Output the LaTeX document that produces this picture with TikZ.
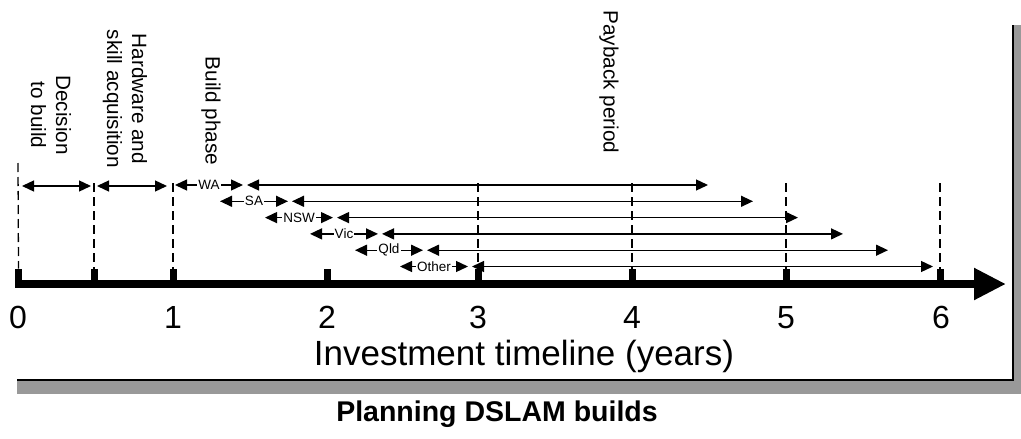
\documentclass[tikz,border=0pt]{standalone}
\usepackage{fontspec}
\setmainfont{Liberation Sans}
\usetikzlibrary{arrows.meta}
\begin{document}
\begin{tikzpicture}[x=1pt,y=-1pt,
  dbl/.style={{Triangle[length=12pt,width=11pt]}-{Triangle[length=12pt,width=11pt]}, line width=1.3pt},
  vdash/.style={line width=1.3pt, dash pattern=on 9pt off 5pt},
  tickmark/.style={fill=black, minimum width=7pt, minimum height=15pt, inner sep=0pt, anchor=south},
  num/.style={font=\fontsize{32}{36}\selectfont, inner sep=0pt, anchor=base},
  vlabel/.style={rotate=-90, align=center, font=\fontsize{20.7}{25}\selectfont, inner sep=0pt},
  slabel/.style={font=\fontsize{13.5}{14}\selectfont, fill=white, inner sep=1pt},
  shadowbar/.style={fill=black!40, draw=none}]
\useasboundingbox (0,0) rectangle (1021,439);
% shadow frame
\path[shadowbar] (1013,25) rectangle (1021,394);
\path[shadowbar] (17,380) rectangle (1021,394);
\coordinate (sh-a) at (17,380);
\coordinate (sh-b) at (1013,380);
\coordinate (sh-c) at (1013,25);
\draw[line width=1.2pt] (sh-a) -- (sh-b) -- (sh-c);
% ticks
\foreach \n/\x in {0/18.5,h/94,1/173,2/327,3/478,4/632,5/786,6/940}
  \node[tickmark] (t\n) at (\x,284) {};
% axis
\coordinate (ax0) at (15,284);
\coordinate (ax1) at (1006,284);
\draw[line width=8pt, -{Triangle[length=32pt,width=30pt]}] (ax0) -- (ax1);
% dashed verticals
\coordinate (d0) at (18,163);
\draw[vdash] (d0) -- (t0.north);
\foreach \n/\x in {h/94,1/173,3/478,4/632,5/786,6/940} {
  \coordinate (d\n) at (\x,183);
  \draw[vdash] (d\n) -- (t\n.north);
}
% phase arrows
\coordinate (dec-l) at (22,186);
\coordinate (dec-r) at (91,186);
\coordinate (hw-l) at (97,186);
\coordinate (hw-r) at (167,186);
\draw[dbl] (dec-l) -- (dec-r);
\draw[dbl] (hw-l) -- (hw-r);
% build and payback arrows
\foreach \i/\lab in {0/WA,1/SA,2/NSW,3/Vic,4/Qld,5/Other} {
  \pgfmathsetmacro\yy{185+16.3*\i}
  \pgfmathsetmacro\xa{175+45*\i}
  \coordinate (b\i-l) at (\xa,\yy);
  \coordinate (b\i-r) at (\xa+68,\yy);
  \coordinate (p\i-l) at (\xa+72,\yy);
  \coordinate (p\i-r) at (\xa+533,\yy);
  \draw[dbl] (b\i-l) -- (b\i-r) node[midway, slabel] (lab\i) {\lab};
  \draw[dbl] (p\i-l) -- (p\i-r);
}
% rotated labels
\node[vlabel] (decision) at (51,115) {Decision\\to build};
\node[vlabel] (hardware) at (125,99) {Hardware and\\skill acquisition};
\node[vlabel] (build) at (211,111) {Build phase};
\node[vlabel] (payback) at (609,82) {Payback period};
% numbers
\foreach \v/\x in {0/18,1/173,2/327,3/478,4/632,5/786,6/941}
  \node[num] (n\v) at (\x,328) {\v};
\node[font=\fontsize{35}{40}\selectfont, inner sep=0pt, anchor=base] (inv) at (524,365) {Investment timeline (years)};
\node[font=\bfseries\fontsize{28.5}{32}\selectfont, inner sep=0pt] (title) at (497,414) {Planning DSLAM builds};
\end{tikzpicture}
\end{document}
